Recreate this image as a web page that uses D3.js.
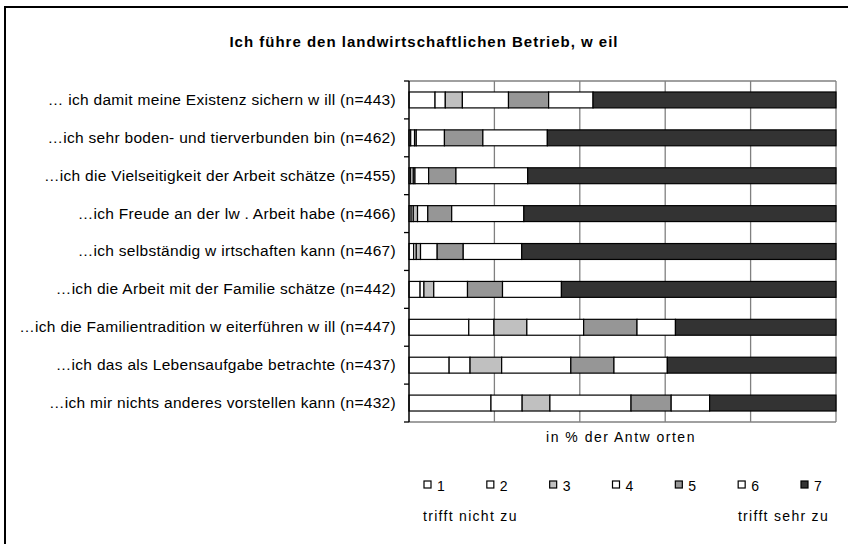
<!DOCTYPE html>
<html><head><meta charset="utf-8">
<script src="https://cdn.jsdelivr.net/npm/d3@7"></script>
<style>body{margin:0;background:#fff}svg{display:block}text{font-family:"Liberation Sans",Arial,sans-serif;fill:#000}</style>
</head><body><svg id="c" width="848" height="544"></svg>
<script>
const categories = [
  "… ich damit meine Existenz sichern w ill (n=443)",
  "…ich sehr boden- und tierverbunden bin (n=462)",
  "…ich die Vielseitigkeit der Arbeit schätze (n=455)",
  "…ich Freude an der lw . Arbeit habe (n=466)",
  "…ich selbständig w irtschaften kann (n=467)",
  "…ich die Arbeit mit der Familie schätze (n=442)",
  "…ich die Familientradition w eiterführen w ill (n=447)",
  "…ich das als Lebensaufgabe betrachte (n=437)",
  "…ich mir nichts anderes vorstellen kann (n=432)"
];
const seriesNames = ["1","2","3","4","5","6","7"];
const s1 = [6.1, 0.4, 0.4, 0.5, 1.1, 2.6, 14.0, 9.4, 19.2];
const s2 = [2.4, 0.9, 0.6, 0.5, 0.6, 0.9, 5.9, 4.9, 7.3];
const s3 = [4.0, 0.4, 0.4, 1.0, 1.0, 2.3, 7.7, 7.4, 6.5];
const s4 = [10.8, 6.6, 3.2, 2.4, 3.9, 7.9, 13.3, 16.2, 19.0];
const s5 = [9.4, 9.0, 6.4, 5.6, 6.1, 8.2, 12.5, 10.1, 9.4];
const s6 = [10.4, 15.1, 16.8, 16.9, 13.7, 13.8, 9.0, 12.5, 9.0];
const s7 = [56.9, 67.6, 72.2, 73.1, 73.6, 64.3, 37.6, 39.5, 29.6];
const xTicks = [0, 20, 40, 60, 80, 100];
const title = "Ich führe den landwirtschaftlichen Betrieb, w eil";
const xTitle = "in % der Antw orten";
const lowLabel = "trifft nicht zu";
const highLabel = "trifft sehr zu";

const colors = ["#ffffff","#ffffff","#c0c0c0","#ffffff","#969696","#ffffff","#333333"];
const allSeries = [s1,s2,s3,s4,s5,s6,s7];
const rows = categories.map((c,i)=>{const o={cat:c}; seriesNames.forEach((k,j)=>o[k]=allSeries[j][i]); return o;});
const stack = d3.stack().keys(seriesNames)(rows);

const svg = d3.select("#c");
svg.append("rect").attr("x",5).attr("y",7).attr("width",900).attr("height",600)
  .attr("fill","none").attr("stroke","#000").attr("stroke-width",2);

const x = d3.scaleLinear().domain([0,100]).range([409,836]);
const y = d3.scaleBand().domain(categories).range([81,422]).paddingInner(0.58).paddingOuter(0.29);

const g = svg.append("g");
g.selectAll("line.grid").data(xTicks.slice(1)).join("line")
  .attr("x1",d=>x(d)).attr("x2",d=>x(d)).attr("y1",81).attr("y2",422)
  .attr("stroke","#808080").attr("stroke-width",1.3);
g.append("line").attr("x1",409).attr("x2",836).attr("y1",81).attr("y2",81).attr("stroke","#808080").attr("stroke-width",1.3);
g.append("line").attr("x1",409).attr("x2",836).attr("y1",422).attr("y2",422).attr("stroke","#808080").attr("stroke-width",1.3);

svg.append("g").selectAll("g").data(stack).join("g")
  .attr("fill",(d,i)=>colors[i])
  .selectAll("rect").data(d=>d).join("rect")
  .attr("x",d=>x(d[0])).attr("width",d=>x(d[1])-x(d[0]))
  .attr("y",d=>y(d.data.cat)).attr("height",y.bandwidth())
  .attr("stroke","#000").attr("stroke-width",1.2);

const ax = svg.append("g").attr("transform","translate(409,0)").call(d3.axisLeft(y).tickSize(0).tickPadding(13));
ax.select(".domain").remove();
ax.selectAll("text").style("font-size","15.5px").style("letter-spacing","0.3px")
  .style("font-family","'Liberation Sans',Arial,sans-serif").attr("fill","#000");
svg.append("line").attr("x1",409).attr("x2",409).attr("y1",81).attr("y2",422).attr("stroke","#000").attr("stroke-width",1.5);
const bounds = d3.range(categories.length+1).map(i=>y.range()[0]+i*y.step());
svg.selectAll("line.tk").data(bounds).join("line")
  .attr("x1",404).attr("x2",409).attr("y1",d=>d).attr("y2",d=>d).attr("stroke","#000").attr("stroke-width",1.3);

svg.append("text").attr("x",424).attr("y",47).attr("text-anchor","middle")
  .style("font-size","15px").style("font-weight","bold").style("letter-spacing","1px").text(title);
svg.append("text").attr("x",621).attr("y",442).attr("text-anchor","middle")
  .style("font-size","14px").style("letter-spacing","1.5px").text(xTitle);

const lx = d3.scaleLinear().domain([0,6]).range([424,801]);
const lg = svg.append("g").selectAll("g").data(seriesNames).join("g").attr("transform",(d,i)=>`translate(${lx(i)},481)`);
lg.append("rect").attr("x",0).attr("y",0).attr("width",7).attr("height",7).attr("fill",(d,i)=>colors[i]).attr("stroke","#000").attr("stroke-width",1.2);
lg.append("text").attr("x",13).attr("y",9.5).style("font-size","14px").text(d=>d);
svg.append("text").attr("x",423).attr("y",521).style("font-size","14px").style("letter-spacing","1.3px").text(lowLabel);
svg.append("text").attr("x",829).attr("y",521).attr("text-anchor","end").style("font-size","14px").style("letter-spacing","1.3px").text(highLabel);
</script></body></html>
